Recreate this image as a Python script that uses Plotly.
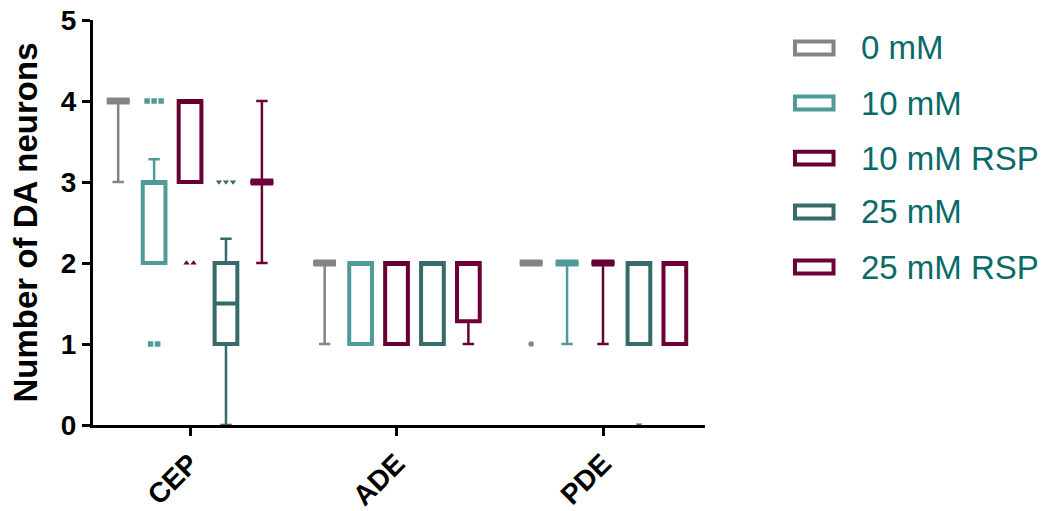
import plotly.graph_objects as go

# ---------------- data ----------------
categories = ["CEP", "ADE", "PDE"]
groups = ["0 mM", "10 mM", "10 mM RSP", "25 mM", "25 mM RSP"]
colors = ["#848484", "#4f9b9b", "#660033", "#376a6a", "#6d0038"]
symbols = ["circle", "square", "triangle-up", "triangle-down", "diamond"]

# per group, values for CEP, ADE, PDE
q1_vals = [[4, 2, 2], [2, 1, 2], [3, 1, 2], [1, 1, 1], [3, 1.28, 1]]
median_vals = [[4, 2, 2], [3, 2, 2], [4, 2, 2], [1.5, 2, 2], [3, 2, 2]]
q3_vals = [[4, 2, 2], [3, 2, 2], [4, 2, 2], [2, 2, 2], [3, 2, 2]]
lower_vals = [[3, 1, 2], [2, 1, 1], [3, 1, 1], [0, 1, 1], [2, 1, 1]]
upper_vals = [[4, 2, 2], [3.28, 2, 2], [4, 2, 2], [2.3, 2, 2], [4, 2, 2]]

# outliers: (category, value)
outliers = [
    [("PDE", 1)],
    [("CEP", 4), ("CEP", 4), ("CEP", 4), ("CEP", 1), ("CEP", 1)],
    [("CEP", 2), ("CEP", 2)],
    [("CEP", 3), ("CEP", 3), ("CEP", 3), ("PDE", 0)],
    [],
]

# ---------------- layout helpers ----------------
group_step = 0.174
box_w = 0.11
jitter_step = 0.034
n_groups = len(groups)
FONT = "Arial, Liberation Sans, sans-serif"

fig = go.Figure()

for gi, g in enumerate(groups):
    offset = (gi - (n_groups - 1) / 2) * group_step
    xs = [ci + offset for ci in range(len(categories))]
    col = colors[gi]
    # whiskers (thin)
    fig.add_trace(go.Box(
        x=xs, q1=q1_vals[gi], median=median_vals[gi], q3=q3_vals[gi],
        lowerfence=lower_vals[gi], upperfence=upper_vals[gi],
        orientation="v", width=box_w, whiskerwidth=0.5,
        line=dict(color=col, width=2.5), fillcolor="rgba(0,0,0,0)",
        boxpoints=False, showlegend=False, hoverinfo="skip",
    ))
    # box (thick)
    fig.add_trace(go.Box(
        x=xs, q1=q1_vals[gi], median=median_vals[gi], q3=q3_vals[gi],
        lowerfence=q1_vals[gi], upperfence=q3_vals[gi],
        orientation="v", width=box_w, whiskerwidth=0,
        line=dict(color=col, width=4), fillcolor="rgba(0,0,0,0)",
        boxpoints=False, showlegend=False, name=g,
    ))
    # collapsed boxes (q1 == q3) drawn as a heavy bar
    bx, by = [], []
    for ci in range(len(categories)):
        if q1_vals[gi][ci] == q3_vals[gi][ci]:
            bx += [xs[ci] - box_w / 2, xs[ci] + box_w / 2, None]
            by += [median_vals[gi][ci], median_vals[gi][ci], None]
    if bx:
        fig.add_trace(go.Scatter(
            x=bx, y=by, mode="lines", showlegend=False, hoverinfo="skip",
            line=dict(color=col, width=7),
        ))
    # outliers with small horizontal spread for identical values
    ox, oy = [], []
    counts = {}
    for c, v in outliers[gi]:
        counts[(c, v)] = counts.get((c, v), 0) + 1
    seen = {}
    for c, v in outliers[gi]:
        n = counts[(c, v)]
        k = seen.get((c, v), 0)
        seen[(c, v)] = k + 1
        ox.append(categories.index(c) + offset + (k - (n - 1) / 2) * jitter_step)
        oy.append(v)
    if ox:
        fig.add_trace(go.Scatter(
            x=ox, y=oy, mode="markers", showlegend=False, cliponaxis=False,
            marker=dict(symbol=symbols[gi], size=5.5, color=col),
        ))

# manual legend (boxes + labels)
leg_y = [0.931, 0.795, 0.659, 0.526, 0.390]
for gi, g in enumerate(groups):
    fig.add_shape(type="rect", xref="paper", yref="paper",
                  x0=1.147, x1=1.210, y0=leg_y[gi] - 0.016, y1=leg_y[gi] + 0.016,
                  line=dict(color=colors[gi], width=4), fillcolor="rgba(0,0,0,0)")
    fig.add_annotation(xref="paper", yref="paper", x=1.252, y=leg_y[gi],
                       xanchor="left", yanchor="middle", text=g, showarrow=False,
                       font=dict(size=33, color="#0a6a6a", family=FONT))

fig.update_layout(
    width=1046, height=511,
    margin=dict(l=93, r=341, t=20, b=86),
    paper_bgcolor="white", plot_bgcolor="white",
    font=dict(family=FONT, color="black"),
    showlegend=False,
)
fig.update_xaxes(
    range=[-0.47, 2.494], tickmode="array", automargin=False,
    tickvals=list(range(len(categories))), ticktext=categories,
    tickangle=-45, ticks="outside", ticklen=8, tickwidth=3, tickcolor="black",
    showline=True, linewidth=3, linecolor="black", showgrid=False, zeroline=False,
    tickfont=dict(size=28, family=FONT, weight="bold"),
)
fig.update_yaxes(
    range=[0, 5], tickvals=[0, 1, 2, 3, 4, 5], automargin=False,
    ticks="outside", ticklen=8, tickwidth=3, tickcolor="black",
    showline=True, linewidth=3, linecolor="black", showgrid=False, zeroline=False,
    tickfont=dict(size=28, family=FONT, weight="bold"),
    title=dict(text="Number of DA neurons", font=dict(size=33, family=FONT, weight="bold"), standoff=14),
)

fig.write_html(
    "out.html",
    config={"displayModeBar": False},
    post_script="document.body.style.margin='0';document.body.style.overflow='hidden';",
)
